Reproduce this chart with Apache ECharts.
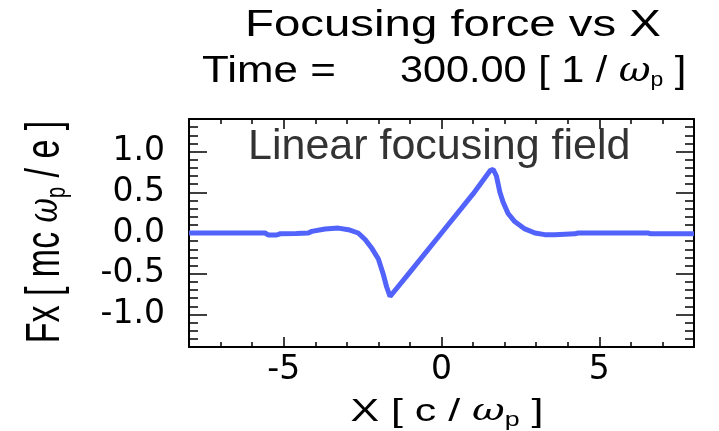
<!DOCTYPE html>
<html>
<head>
<meta charset="utf-8">
<script src="https://cdn.jsdelivr.net/npm/echarts@6/dist/echarts.min.js"></script>
<style>
html,body{margin:0;padding:0;background:#fff;}
#chart{width:719px;height:431px;}
</style>
</head>
<body>
<div id="chart"></div>
<script>
// ---- data ----
const xValues = [-8.0, -7.0, -6.0, -5.59, -5.48, -5.22, -5.12, -4.6, -4.22, -4.11, -3.69, -3.27, -2.95, -2.64, -2.42, -2.22, -2.0, -1.85, -1.74, -1.63, -1.0, 0.0, 1.0, 1.55, 1.64, 1.74, 1.85, 1.95, 2.11, 2.32, 2.64, 2.96, 3.27, 3.59, 4.22, 4.33, 5.5, 6.54, 6.64, 8.0];
const fxValues = [0.0, 0.0, 0.0, 0.0, -0.025, -0.025, -0.01, -0.005, 0.0, 0.02, 0.05, 0.06, 0.04, 0.0, -0.08, -0.18, -0.32, -0.5, -0.66, -0.78, -0.48, 0.0, 0.48, 0.77, 0.78, 0.70, 0.50, 0.38, 0.24, 0.14, 0.05, 0.0, -0.02, -0.02, -0.01, 0.0, 0.0, 0.0, -0.01, -0.01];
const xMajorTicks = [-5, 0, 5];
const yMajorTicks = [-1.0, -0.5, 0.0, 0.5, 1.0];
const xRange = [-8, 8];
const yRange = [-1.4, 1.4];
const titleText = 'Focusing force vs X';
const timeLabel = 'Time =';
const timeValue = '300.00';
const annotationText = 'Linear focusing field';

const chart = echarts.init(document.getElementById('chart'), null, {renderer: 'canvas'});

const black = '#000';
function xAxisPair(position, withLabels) {
  return [
    {
      type: 'value', position: position, min: xRange[0], max: xRange[1], interval: 1,
      axisLine: {show: true, onZero: false, lineStyle: {color: black, width: 2}},
      axisTick: {show: true, inside: true, length: 5, lineStyle: {color: black, width: 1.5}},
      axisLabel: {show: false}, splitLine: {show: false}
    },
    {
      type: 'value', position: position, min: xRange[0], max: xRange[1],
      axisLine: {show: false, onZero: false},
      axisTick: {show: true, inside: true, length: 10, customValues: xMajorTicks, lineStyle: {color: black, width: 1.5}},
      axisLabel: {show: withLabels, customValues: xMajorTicks, margin: 7, color: black,
        fontFamily: 'DejaVu Sans', fontSize: 33, formatter: v => String(v)},
      splitLine: {show: false}
    }
  ];
}
function yAxisPair(position, withLabels) {
  return [
    {
      type: 'value', position: position, min: yRange[0], max: yRange[1], interval: 0.1,
      axisLine: {show: true, onZero: false, lineStyle: {color: black, width: 2}},
      axisTick: {show: true, inside: true, length: 9, lineStyle: {color: black, width: 1.5}},
      axisLabel: {show: false}, splitLine: {show: false}
    },
    {
      type: 'value', position: position, min: yRange[0], max: yRange[1],
      axisLine: {show: false, onZero: false},
      axisTick: {show: true, inside: true, length: 18, customValues: yMajorTicks, lineStyle: {color: black, width: 1.5}},
      axisLabel: {show: withLabels, customValues: yMajorTicks, margin: 24, color: black,
        fontFamily: 'DejaVu Sans', fontSize: 33, formatter: v => v.toFixed(1)},
      splitLine: {show: false}
    }
  ];
}

const omegaStyle = {fontFamily: 'DejaVu Serif', fontStyle: 'italic', fontSize: 30, fill: black};
const subStyle = {fontFamily: 'Liberation Sans', fontSize: 20, fill: black, padding: [16, 0, 0, 0]};

const option = {
  backgroundColor: '#fff',
  animation: false,
  grid: {left: 189, right: 25, top: 119, bottom: 84, containLabel: false, outerBoundsMode: 'none'},
  xAxis: [].concat(xAxisPair('bottom', true), xAxisPair('top', false)),
  yAxis: [].concat(yAxisPair('left', true), yAxisPair('right', false)),
  series: [{
    type: 'line', xAxisIndex: 0, yAxisIndex: 0,
    data: xValues.map((x, i) => [x, fxValues[i]]),
    showSymbol: false, symbol: 'none', smooth: false,
    lineStyle: {color: '#5163fb', width: 5},
    z: 1
  }],
  graphic: [
    {type: 'text', x: 453, y: 26, scaleX: 1.28, z: 10,
     style: {text: titleText, fontFamily: 'Liberation Sans', fontSize: 37, fill: black, align: 'center', verticalAlign: 'middle'}},
    {type: 'text', x: 202, y: 72, scaleX: 1.22, z: 10,
     style: {text: timeLabel, fontFamily: 'Liberation Sans', fontSize: 36, fill: black, align: 'left', verticalAlign: 'middle'}},
    {type: 'text', x: 400, y: 72, scaleX: 1.15, z: 10,
     style: {text: timeValue + ' [ 1 / {w|ω}{p|p} ]', fontFamily: 'Liberation Sans', fontSize: 36, fill: black, align: 'left', verticalAlign: 'middle',
       rich: {w: Object.assign({}, omegaStyle, {fontSize: 34}), p: subStyle}}},
    {type: 'text', x: 248, y: 147, z: 10,
     style: {text: annotationText, fontFamily: 'Liberation Sans', fontSize: 43, fill: '#333', align: 'left', verticalAlign: 'middle'}},
    {type: 'text', x: 447, y: 412, scaleX: 1.34, z: 10,
     style: {text: 'X [ c / {w|ω}{p|p} ]', fontFamily: 'Liberation Sans', fontSize: 32, fill: black, align: 'center', verticalAlign: 'middle',
       rich: {w: omegaStyle, p: subStyle}}},
    {type: 'text', x: 46, y: 232, rotation: Math.PI / 2, scaleY: 1.4, z: 10,
     style: {text: 'Fx [ mc {w|ω}{p|p} / e ]', fontFamily: 'Liberation Sans', fontSize: 34, fill: black, align: 'center', verticalAlign: 'middle',
       rich: {w: omegaStyle, p: subStyle}}}
  ]
};
chart.setOption(option);
</script>
</body>
</html>
